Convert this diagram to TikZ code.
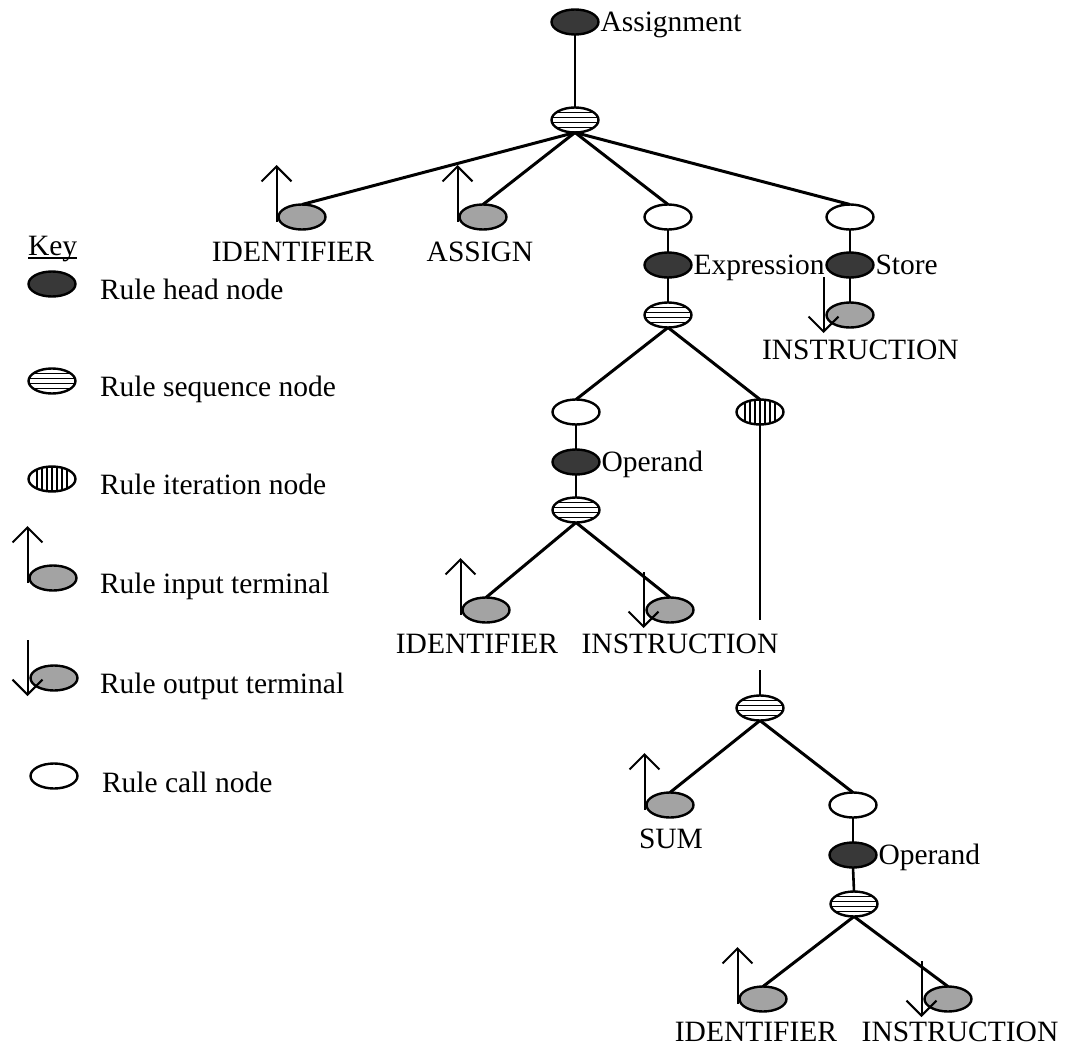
\documentclass[tikz,border=0pt]{standalone}
\usepackage{fontspec}
\setmainfont{Liberation Serif}
\usetikzlibrary{shapes.geometric,arrows.meta}

\begin{document}
\begin{tikzpicture}[x=1pt,y=-1pt,
  every node/.style={inner sep=0pt, outer sep=0pt},
  nd/.style={ellipse, draw, line width=2.4pt, minimum width=47pt, minimum height=25pt},
  headnode/.style={nd, fill=black!78},
  callnode/.style={nd, fill=white},
  termnode/.style={nd, fill=black!36},
  seqnode/.style={nd, fill=white,
    path picture={\foreach \d in {-7.5,-2.5,2.5,7.5}
      \draw[line width=1.6pt] ([yshift=\d*1pt]path picture bounding box.west) -- ([yshift=\d*1pt]path picture bounding box.east);}},
  iternode/.style={nd, fill=white,
    path picture={\foreach \d in {-15,-10,-5,0,5,10,15}
      \draw[line width=1.6pt] ([xshift=\d*1pt]path picture bounding box.north) -- ([xshift=\d*1pt]path picture bounding box.south);}},
  conn/.style={line width=3pt},
  link/.style={line width=2.6pt},
  tarrow/.style={line width=2pt, -{Straight Barb[length=15pt,width=30pt]}},
  txt/.style={font=\fontsize{29.5pt}{35pt}\selectfont},
  lbl/.style={txt, anchor=base},
  hlbl/.style={txt, anchor=base west},
]
\useasboundingbox (0,0) rectangle (1071,1049);

% ---------- grammar tree: shapes ----------
\node[headnode] (A0) at (575,22) {};
\node[seqnode]  (S1) at (575,120) {};

\node[termnode] (T1) at (302,217) {};
\node[termnode] (T2) at (483,217) {};
\node[callnode] (C1) at (668,217) {};
\node[callnode] (C2) at (850,217) {};

\node[headnode] (H1) at (668,265) {};
\node[headnode] (H2) at (850,265) {};
\node[seqnode]  (S2) at (668,315) {};
\node[termnode] (T3) at (850,315) {};

\node[callnode] (C3) at (576,412) {};
\node[iternode] (I1) at (760,412) {};
\node[headnode] (H3) at (576,462) {};
\node[seqnode]  (S3) at (576,510) {};
\node[termnode] (T4) at (486,610) {};
\node[termnode] (T5) at (670,610) {};

\node[seqnode]  (S4) at (760,708) {};
\node[termnode] (T6) at (670,805) {};
\node[callnode] (C4) at (853,805) {};
\node[headnode] (H4) at (853,855) {};
\node[seqnode]  (S5) at (854,904) {};
\node[termnode] (T7) at (763,999) {};
\node[termnode] (T8) at (948,999) {};

% ---------- grammar tree: connectors ----------
\draw[link] (A0.south) -- (S1.north);
\draw[conn] (S1.south) -- (T1.north);
\draw[conn] (S1.south) -- (T2.north);
\draw[conn] (S1.south) -- (C1.north);
\draw[conn] (S1.south) -- (C2.north);

\draw[link] (C1.south) -- (H1.north);
\draw[link] (H1.south) -- (S2.north);
\draw[link] (C2.south) -- (H2.north);
\draw[link] (H2.south) -- (T3.north);

\draw[conn] (S2.south) -- (C3.north);
\draw[conn] (S2.south) -- (I1.north);
\draw[link] (C3.south) -- (H3.north);
\draw[link] (H3.south) -- (S3.north);
\draw[conn] (S3.south) -- (T4.north);
\draw[conn] (S3.south) -- (T5.north);

% the iteration line is broken where the label crosses it
\coordinate (brkA) at (760,620);
\coordinate (brkB) at (760,670);
\draw[link] (I1.south) -- (brkA);
\draw[link] (brkB) -- (S4.north);

\draw[conn] (S4.south) -- (T6.north);
\draw[conn] (S4.south) -- (C4.north);
\draw[link] (C4.south) -- (H4.north);
\draw[link] (H4.south) -- (S5.north);
\draw[conn] (S5.south) -- (T7.north);
\draw[conn] (S5.south) -- (T8.north);

% ---------- terminal direction arrows ----------
% input terminals: arrow rising from the left side
\foreach \t in {T1,T2,T4,T6,T7}
  \draw[tarrow] (\t.west) ++(-2,5) -- ++(0,-57);
% output terminals: arrow falling past the left side
\foreach \t in {T3,T5,T8}
  \draw[tarrow] (\t.west) ++(-3,-38) -- ++(0,56);

% ---------- rule names ----------
\node[hlbl] at ([xshift=2pt,yshift=-9.5pt]A0.east) {Assignment};
\node[hlbl] at ([xshift=2pt,yshift=-9.5pt]H1.east) {Expression};
\node[hlbl] at ([xshift=2pt,yshift=-9.5pt]H2.east) {Store};
\node[hlbl] at ([xshift=2pt,yshift=-9.5pt]H3.east) {Operand};
\node[hlbl] at ([xshift=2pt,yshift=-9.5pt]H4.east) {Operand};

% ---------- terminal names ----------
\node[lbl] (L1) at (293,261) {IDENTIFIER};
\node[lbl] (L2) at (480,261) {ASSIGN};
\node[hlbl] (L3) at (762,359) {INSTRUCTION};
\node[lbl] (L4) at (477,653) {IDENTIFIER};
\node[lbl] (L5) at (680,653) {INSTRUCTION};
\node[lbl] (L6) at (671,848) {SUM};
\node[lbl] (L7) at (756,1041) {IDENTIFIER};
\node[lbl] (L8) at (960,1041) {INSTRUCTION};

% ---------- key ----------
\node[hlbl] (keyhd) at (28,255) {Key};
\draw[line width=1.4pt] ([yshift=-3pt]keyhd.base west) -- ([yshift=-3pt]keyhd.base east);

\node[headnode] (KH) at (52,284) {};
\node[hlbl] at (100,299) {Rule head node};
\node[seqnode]  (KS) at (52,381) {};
\node[hlbl] at (100,396) {Rule sequence node};
\node[iternode] (KI) at (52,479) {};
\node[hlbl] at (100,494) {Rule iteration node};
\node[termnode] (KT) at (53,578) {};
\draw[tarrow] (KT.west) ++(-2,5) -- ++(0,-57);
\node[hlbl] at (100,593) {Rule input terminal};
\node[termnode] (KO) at (54,678) {};
\draw[tarrow] (KO.west) ++(-3,-38) -- ++(0,56);
\node[hlbl] at (100,693) {Rule output terminal};
\node[callnode] (KC) at (54,776) {};
\node[hlbl] at (102,792) {Rule call node};
\end{tikzpicture}
\end{document}
